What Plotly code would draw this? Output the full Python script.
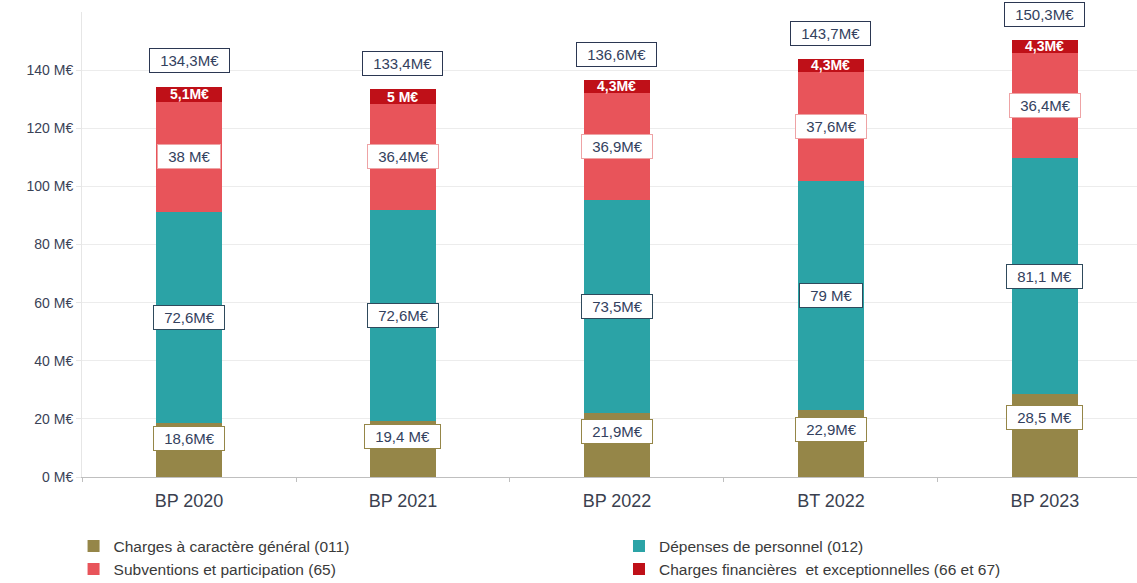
import plotly.graph_objects as go

# Budget categories (M€)
categories = ["BP 2020", "BP 2021", "BP 2022", "BT 2022", "BP 2023"]

charges_generales = [18.6, 19.4, 21.9, 22.9, 28.5]
depenses_personnel = [72.6, 72.6, 73.5, 79.0, 81.1]
subventions = [38.0, 36.4, 36.9, 37.6, 36.4]
charges_financieres = [5.1, 5.0, 4.3, 4.3, 4.3]
totaux = [134.3, 133.4, 136.6, 143.7, 150.3]

labels_generales = ["18,6M€", "19,4 M€", "21,9M€", "22,9M€", "28,5 M€"]
labels_personnel = ["72,6M€", "72,6M€", "73,5M€", "79 M€", "81,1 M€"]
labels_subventions = ["38 M€", "36,4M€", "36,9M€", "37,6M€", "36,4M€"]
labels_financieres = ["5,1M€", "5 M€", "4,3M€", "4,3M€", "4,3M€"]
labels_totaux = ["134,3M€", "133,4M€", "136,6M€", "143,7M€", "150,3M€"]

tick_values = [0, 20, 40, 60, 80, 100, 120, 140]
tick_labels = ["0 M€", "20 M€", "40 M€", "60 M€", "80 M€", "100 M€", "120 M€", "140 M€"]

OLIVE = "#958648"
TEAL = "#2ba3a6"
RED = "#e8545a"
DARK_RED = "#bf1018"
NAVY = "#33415e"
FONT = "Liberation Sans, Arial, sans-serif"

# (name, values, colour, legend column)
series = [
    ("Charges à caractère général (011)", charges_generales, OLIVE, "legend"),
    ("Dépenses de personnel (012)", depenses_personnel, TEAL, "legend2"),
    ("Subventions et participation (65)", subventions, RED, "legend"),
    ("Charges financières  et exceptionnelles (66 et 67)", charges_financieres, DARK_RED, "legend2"),
]

fig = go.Figure()
for name, values, color, leg in series:
    fig.add_trace(go.Bar(
        x=categories, y=values, name=name, legend=leg,
        marker=dict(color=color, line=dict(width=0)),
        width=0.305,
    ))

NB = "\u00a0\u2009"
annotations = []
for i, cat in enumerate(categories):
    b1 = charges_generales[i]
    b2 = b1 + depenses_personnel[i]
    b3 = b2 + subventions[i]
    top = b3 + charges_financieres[i]
    boxed = [
        (b1 * 0.72, labels_generales[i], OLIVE),
        (b1 + depenses_personnel[i] / 2, labels_personnel[i], "#2f4a5c"),
        (b2 + subventions[i] / 2, labels_subventions[i], "#eea3a5"),
    ]
    for y, txt, border in boxed:
        annotations.append(dict(
            x=cat, y=y, text=NB + txt + NB, showarrow=False,
            font=dict(family=FONT, size=15, color=NAVY),
            bgcolor="white", bordercolor=border, borderwidth=1, borderpad=3,
        ))
    annotations.append(dict(
        x=cat, y=b3 + charges_financieres[i] / 2, text="<b>" + labels_financieres[i] + "</b>",
        showarrow=False, font=dict(family=FONT, size=14, color="white"),
    ))
    annotations.append(dict(
        x=cat, y=top, yshift=26, text=NB + labels_totaux[i] + NB, showarrow=False,
        font=dict(family=FONT, size=15, color=NAVY),
        bgcolor="white", bordercolor="#2b3752", borderwidth=1, borderpad=3,
    ))

legend_style = dict(
    orientation="v", xanchor="left", yanchor="top", yref="container", y=0.092,
    font=dict(family=FONT, size=15.5, color="#3a3a3a"),
    tracegroupgap=0, itemwidth=30, bgcolor="rgba(0,0,0,0)",
)

fig.update_layout(
    barmode="stack",
    width=1137, height=583,
    margin=dict(l=82, r=0, t=12, b=106),
    paper_bgcolor="white", plot_bgcolor="white",
    font=dict(family=FONT, size=13, color=NAVY),
    showlegend=True,
    legend=dict(x=-0.008, traceorder="normal", **legend_style),
    legend2=dict(x=0.509, traceorder="normal", **legend_style),
    annotations=annotations,
    xaxis=dict(
        range=[-0.5, 4.43], showgrid=False, showline=True, linecolor="#bfbfbf", linewidth=1,
        ticks="outside", tickson="boundaries", ticklen=4, tickcolor="#bfbfbf",
        ticklabelstandoff=7,
        tickfont=dict(family=FONT, size=18, color="#3a3f4f"),
    ),
    yaxis=dict(
        range=[0, 160], tickvals=tick_values, ticktext=tick_labels,
        showgrid=True, gridcolor="#ececec", gridwidth=1, zeroline=False,
        showline=True, linecolor="#e6e6e6", ticks="outside", ticklen=5, tickcolor="#e6e6e6",
        tickfont=dict(family=FONT, size=14, color="#3a4256"),
    ),
)

fig.write_html("out.html")
